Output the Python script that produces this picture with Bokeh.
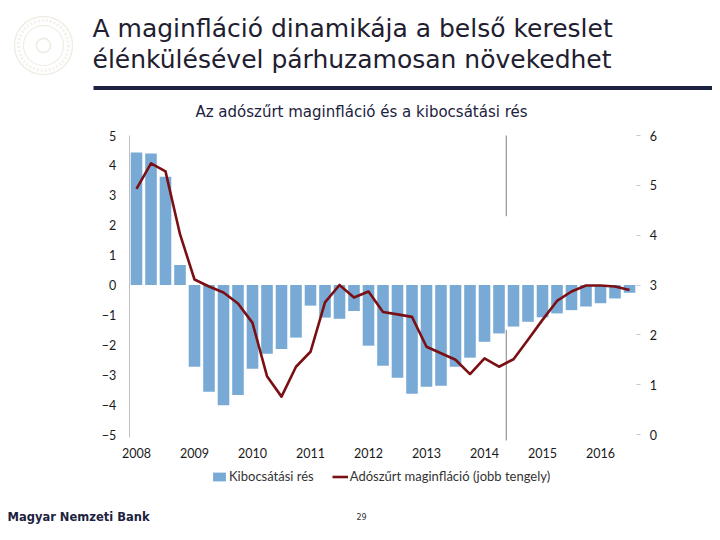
import math
from bokeh.plotting import figure
from bokeh.models import (Range1d, LinearAxis, FixedTicker, Legend, LegendItem,
                          ColumnDataSource, Label, PolyAnnotation)
from bokeh.embed import file_html
from bokeh.resources import INLINE

# ---------------- data ----------------
years = ["2008", "2009", "2010", "2011", "2012", "2013", "2014", "2015", "2016"]
quarters = [f"{y}Q{q}" for y in years for q in range(1, 5)][:35]

output_gap = [4.43, 4.40, 3.62, 0.67, -2.73, -3.57, -4.02, -3.68, -2.80, -2.30,
              -2.14, -1.76, -0.69, -1.09, -1.13, -0.87, -2.03, -2.70, -3.10, -3.64,
              -3.40, -3.37, -2.73, -2.43, -1.90, -1.62, -1.39, -1.23, -1.08, -0.95,
              -0.84, -0.72, -0.61, -0.45, -0.26]

core_inflation = [4.93, 5.44, 5.28, 4.02, 3.11, 2.97, 2.85, 2.63, 2.24, 1.17,
                  0.76, 1.36, 1.66, 2.65, 3.00, 2.75, 2.87, 2.46, 2.41, 2.36,
                  1.76, 1.63, 1.50, 1.21, 1.53, 1.36, 1.51, 1.90, 2.30, 2.68,
                  2.87, 2.99, 2.99, 2.97, 2.90]

left_ticks = [-5, -4, -3, -2, -1, 0, 1, 2, 3, 4, 5]
right_ticks = [0, 1, 2, 3, 4, 5, 6]
forecast_start = 25.5  # between 2014Q2 and 2014Q3

title_lines = ["A maginfláció dinamikája a belső kereslet",
               "élénkülésével párhuzamosan növekedhet"]
subtitle = "Az adószűrt maginfláció és a kibocsátási rés"
series_names = ["Kibocsátási rés", "Adószűrt maginfláció (jobb tengely)"]
footer = "Magyar Nemzeti Bank"
page_no = "29"

BAR = "#78aad5"
LINE = "#7a0f14"
NAVY = "#1c2240"
NUMF = "Lato"

# ---------------- page geometry (pixels) ----------------
W, H = 712, 532
X0, DX = 136.0, 14.5          # page x of first quarter, px per quarter
Y_TOP, Y_BOT = 135.0, 434.0   # page y of left-axis 5 and -5
PPU = (Y_BOT - Y_TOP) / 10.0
Y_ZERO = (Y_TOP + Y_BOT) / 2.0

x_lo, x_hi = (0 - X0) / DX, (W - X0) / DX
y_hi, y_lo = Y_ZERO / PPU, (Y_ZERO - H) / PPU
r_lo, r_hi = 3 + 0.6 * y_lo, 3 + 0.6 * y_hi
n = len(quarters)

idx = list(range(n))
src = ColumnDataSource(dict(x=idx, gap=output_gap, infl=core_inflation, q=quarters))

p = figure(width=W, height=H, x_range=Range1d(x_lo, x_hi), y_range=Range1d(y_lo, y_hi),
           output_backend="svg", toolbar_location=None, min_border=0,
           outline_line_color=None)
p.extra_y_ranges = {"right": Range1d(r_lo, r_hi)}
p.xgrid.visible = False
p.ygrid.visible = False

bars = p.vbar(x="x", top="gap", bottom=0, width=0.8, source=src, fill_color=BAR,
              line_color=None)
p.segment(x0=[forecast_start, forecast_start], y0=[5, -1.5],
          x1=[forecast_start, forecast_start], y1=[2.3, -5.2],
          line_color="#808080", line_width=1)
line = p.line(x="x", y="infl", source=src, y_range_name="right", line_color=LINE,
              line_width=2.6, line_join="round")

# left axis
ya = p.yaxis[0]
ya.fixed_location = -0.5
ya.bounds = (left_ticks[0] - 0.1, left_ticks[-1])
ya.ticker = FixedTicker(ticks=left_ticks)
ya.axis_line_color = "#c0c0c0"
ya.major_tick_line_color = None
ya.major_tick_out = 0
ya.major_tick_in = 0
ya.minor_tick_line_color = None
ya.major_label_standoff = 13
ya.major_label_text_font = NUMF
ya.major_label_text_font_size = "12.5px"
ya.major_label_text_color = "#1a1a1a"

# right axis
ra = LinearAxis(y_range_name="right", ticker=FixedTicker(ticks=right_ticks))
ra.fixed_location = n - 0.5
ra.bounds = (right_ticks[0], right_ticks[-1])
ra.axis_line_color = None
ra.major_tick_in = 0
ra.major_tick_out = 4
ra.major_tick_line_color = "#c8c8c8"
ra.minor_tick_line_color = None
ra.major_label_standoff = 9
ra.major_label_text_font = NUMF
ra.major_label_text_font_size = "12.5px"
ra.major_label_text_color = "#1a1a1a"
p.add_layout(ra, "right")

# bottom axis
xa = p.xaxis[0]
xa.fixed_location = left_ticks[0]
xa.ticker = FixedTicker(ticks=[i * 4 for i in range(len(years))])
xa.major_label_overrides = {i * 4: y for i, y in enumerate(years)}
xa.axis_line_color = None
xa.major_tick_line_color = None
xa.major_tick_out = 0
xa.major_tick_in = 0
xa.minor_tick_line_color = None
xa.major_label_standoff = 13
xa.major_label_text_font = NUMF
xa.major_label_text_font_size = "12.5px"
xa.major_label_text_color = "#1a1a1a"

legend = Legend(items=[LegendItem(label=series_names[0], renderers=[bars]),
                       LegendItem(label=series_names[1], renderers=[line])],
                orientation="horizontal", location=(211, H - 484),
                border_line_color=None, background_fill_alpha=0,
                label_text_font=NUMF, label_text_font_size="13px",
                label_text_color="#333333", glyph_width=16, glyph_height=11,
                spacing=18, padding=2, margin=0, label_standoff=2)
p.add_layout(legend)


# ---------------- slide decorations (screen units, page pixels) ----------
def sy(py):
    return H - py


for r, col, w, dash in [(29, "#cdc4aa", 1.5, "solid"), (25, "#d8d0b8", 3, "2 2"),
                        (20, "#cdc4aa", 1.2, "solid"), (7, "#c6bb9c", 1.5, "solid")]:
    k_n = 60
    xs = [43 + r * math.cos(2 * math.pi * k / k_n) for k in range(k_n)]
    ys = [sy(45 + r * math.sin(2 * math.pi * k / k_n)) for k in range(k_n)]
    p.add_layout(PolyAnnotation(xs=xs, ys=ys, xs_units="screen", ys_units="screen",
                                fill_alpha=0, line_color=col, line_width=w,
                                line_dash=dash))

for txt, mid in zip(title_lines, [27.5, 59]):
    p.add_layout(Label(x=92, y=sy(mid), x_units="screen", y_units="screen",
                       text=txt, text_font="DejaVu Sans", text_font_size="25px",
                       text_color="#1e2030", text_baseline="middle",
                       text_align="left"))

p.add_layout(PolyAnnotation(xs=[93, W, W, 93], ys=[sy(85.5), sy(85.5), sy(89.5), sy(89.5)],
                            xs_units="screen", ys_units="screen",
                            fill_color=NAVY, fill_alpha=1, line_color=None))

p.add_layout(Label(x=361, y=sy(111), x_units="screen", y_units="screen",
                   text=subtitle, text_font="DejaVu Sans", text_font_size="15px",
                   text_color=NAVY, text_baseline="middle", text_align="center"))

p.add_layout(Label(x=7, y=sy(516), x_units="screen", y_units="screen",
                   text=footer, text_font="DejaVu Sans", text_font_size="11.5px",
                   text_font_style="bold", text_color=NAVY,
                   text_baseline="middle", text_align="left"))
p.add_layout(Label(x=361, y=sy(516), x_units="screen", y_units="screen",
                   text=page_no, text_font="DejaVu Sans", text_font_size="8px",
                   text_color="#333333", text_baseline="middle",
                   text_align="center"))

open("out.html", "w").write(file_html(p, INLINE))
